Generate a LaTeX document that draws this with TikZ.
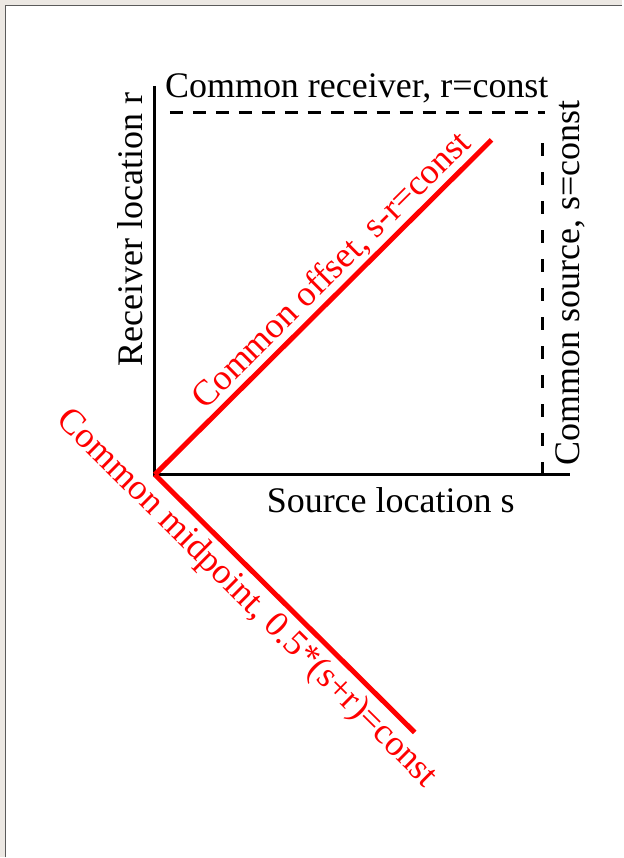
\documentclass[tikz,border=0pt]{standalone}
\usepackage{fontspec}
\setmainfont{Liberation Serif}
\usetikzlibrary{positioning,calc}
\definecolor{cRed}{HTML}{FF0000}
\definecolor{cInk}{HTML}{000000}
\definecolor{cFrame}{HTML}{ECE8E3}
\definecolor{cEdge}{HTML}{5A5A5A}

\begin{document}
\begin{tikzpicture}[
  x=1pt,y=-1pt,
  font=\fontsize{36}{43}\selectfont,
  axis/.style={line width=3.2pt,color=cInk},
  guide/.style={line width=3pt,color=cInk,dash pattern=on 13pt off 10pt},
  gather/.style={line width=5pt,color=cRed},
  lbl/.style={inner sep=0pt,color=cInk},
  rlbl/.style={inner sep=0pt,color=cRed,sloped},
]

% ====================================================== frame
\fill[cFrame] (0,0) rectangle (623,858);
\fill[white] (6,6) rectangle (623,858);
\draw[cEdge,line width=1.5pt] (5.5,858) -- (5.5,5.5) -- (623,5.5);
\useasboundingbox (0,0) rectangle (623,858);

% ====================================================== axes
\coordinate (org)  at (155,475);
\coordinate (sEnd) at (570,475);
\coordinate (rEnd) at (155,86);
\draw[axis] (rEnd) -- (org) -- (sEnd);

\node[lbl,anchor=base] (sLab) at (391,513) {Source location s};
\node[lbl,rotate=90,anchor=base] (rLab) at (143,230) {Receiver location r};

% ====================================================== constant-coordinate gathers
\coordinate (crL) at (170,113);
\coordinate (crR) at (545,113);
\draw[guide] (crL) -- (crR);
\node[lbl,anchor=base west] (crLab) at (165,98) {Common receiver, r=const};

\coordinate (csB) at (543,475);
\coordinate (csT) at (543,140);
\draw[guide,dash pattern=on 13pt off 16pt] (csB) -- (csT);
\node[lbl,rotate=90,anchor=base] (csLab) at (580,283) {Common source, s=const};

% ====================================================== diagonal gathers
\coordinate (coEnd) at (492,140);
\coordinate (cmEnd) at (415,733);
\draw[gather] (org) -- (coEnd)
  node[rlbl,pos=0.567,above=2pt] (coLab) {Common offset, s-r=const};
\draw[gather] (org) -- (cmEnd)
  node[rlbl,pos=0.417,below=5pt] (cmLab) {Common midpoint, 0.5*(s+r)=const};

\end{tikzpicture}
\end{document}
